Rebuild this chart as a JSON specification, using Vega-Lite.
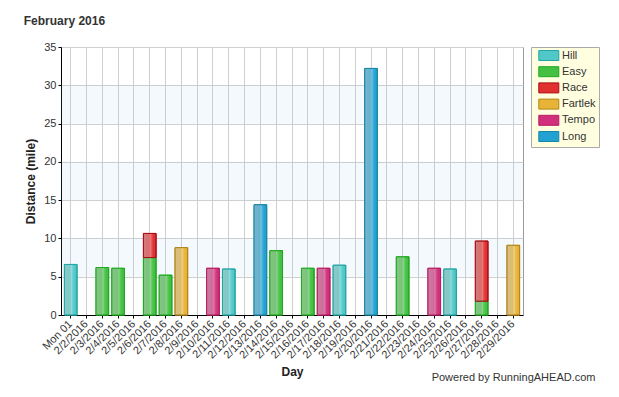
{
  "$schema": "https://vega.github.io/schema/vega-lite/v6.json",
  "padding": {"left": 23, "top": 14, "right": 5, "bottom": 5},
  "background": "white",
  "title": {"text": "Powered by RunningAHEAD.com", "orient": "bottom", "anchor": "end", "frame": "bounds", "offset": -6, "dx": -4, "fontSize": 11, "fontWeight": "normal", "color": "#333"},
  "config": {
    "font": "Liberation Sans",
    "axis": {
      "labelFontSize": 11,
      "labelColor": "#333",
      "tickSize": 3,
      "tickColor": "#000",
      "domainColor": "#000",
      "gridColor": "#cfcfcf",
      "titleFontSize": 12,
      "titleFontWeight": "bold",
      "titleColor": "#222"
    }
  },
  "vconcat": [
    {
      "width": 462,
      "height": 268,
      "view": {"stroke": "#999"},
      "title": {"text": "February 2016", "anchor": "start", "frame": "bounds", "offset": 13, "dx": -1, "fontSize": 12, "fontWeight": "bold", "color": "#333"},
      "layer": [
        {
          "data": {"values": [{"lo": 5, "hi": 10}, {"lo": 15, "hi": 20}, {"lo": 25, "hi": 30}]},
          "mark": {"type": "rect", "fill": "#87c3eb", "opacity": 0.1},
          "encoding": {
            "y": {"field": "lo", "type": "quantitative", "title": "Distance (mile)", "scale": {"domain": [0, 35]},
              "axis": {"values": [0, 5, 10, 15, 20, 25, 30, 35], "grid": true, "labelPadding": 2, "titlePadding": 6}},
            "y2": {"field": "hi"}
          }
        },
        {
          "data": {"values": [
            {"day": "Mon 01", "type": "Hill", "miles": 6.6},
            {"day": "2/3/2016", "type": "Easy", "miles": 6.2},
            {"day": "2/4/2016", "type": "Easy", "miles": 6.1},
            {"day": "2/6/2016", "type": "Easy", "miles": 7.5},
            {"day": "2/6/2016", "type": "Race", "miles": 3.15},
            {"day": "2/7/2016", "type": "Easy", "miles": 5.2},
            {"day": "2/8/2016", "type": "Fartlek", "miles": 8.8},
            {"day": "2/10/2016", "type": "Tempo", "miles": 6.1},
            {"day": "2/11/2016", "type": "Hill", "miles": 6.0},
            {"day": "2/13/2016", "type": "Long", "miles": 14.4},
            {"day": "2/14/2016", "type": "Easy", "miles": 8.4},
            {"day": "2/16/2016", "type": "Easy", "miles": 6.1},
            {"day": "2/17/2016", "type": "Tempo", "miles": 6.1},
            {"day": "2/18/2016", "type": "Hill", "miles": 6.5},
            {"day": "2/20/2016", "type": "Long", "miles": 32.2},
            {"day": "2/22/2016", "type": "Easy", "miles": 7.6},
            {"day": "2/24/2016", "type": "Tempo", "miles": 6.1},
            {"day": "2/25/2016", "type": "Hill", "miles": 6.0},
            {"day": "2/27/2016", "type": "Easy", "miles": 1.8},
            {"day": "2/27/2016", "type": "Race", "miles": 7.85},
            {"day": "2/29/2016", "type": "Fartlek", "miles": 9.1}
          ]},
          "encoding": {
            "x": {
              "field": "day", "type": "nominal", "sort": null, "title": "Day",
              "scale": {
                "domain": ["Mon 01", "2/2/2016", "2/3/2016", "2/4/2016", "2/5/2016", "2/6/2016", "2/7/2016", "2/8/2016", "2/9/2016", "2/10/2016", "2/11/2016", "2/12/2016", "2/13/2016", "2/14/2016", "2/15/2016", "2/16/2016", "2/17/2016", "2/18/2016", "2/19/2016", "2/20/2016", "2/21/2016", "2/22/2016", "2/23/2016", "2/24/2016", "2/25/2016", "2/26/2016", "2/27/2016", "2/28/2016", "2/29/2016"],
                "paddingInner": 0.2, "paddingOuter": 0.215
              },
              "axis": {"labelAngle": -45, "labelAlign": "right", "labelBaseline": "middle", "grid": true, "bandPosition": 0.5, "labelPadding": 4, "titlePadding": 6}
            },
            "y": {
              "field": "miles", "type": "quantitative", "title": "Distance (mile)", "stack": "zero",
              "scale": {"domain": [0, 35]},
              "axis": {"values": [0, 5, 10, 15, 20, 25, 30, 35], "grid": true, "labelPadding": 2, "titlePadding": 6}
            },
            "order": {"field": "type", "type": "nominal", "sort": "ascending"},
            "stroke": {
              "field": "type", "type": "nominal",
              "scale": {"domain": ["Hill", "Easy", "Race", "Fartlek", "Tempo", "Long"], "range": ["#20a6a6", "#1faa1f", "#aa0c16", "#b3861a", "#b81c62", "#1a86a6"]},
              "legend": {"title": null, "orient": "right", "offset": 7, "padding": 3, "fillColor": "#ffffe0", "strokeColor": "#aaa", "labelFontSize": 11, "labelColor": "#333", "symbolType": "M-0.14,-1L3.86,-1L3.86,1L-0.14,1Z", "symbolSize": 100, "symbolStrokeWidth": 1, "rowPadding": 1.2, "labelOffset": 17}
            }
          },
          "layer": [
            {
              "mark": {"type": "bar", "strokeWidth": 1},
              "encoding": {
                "color": {
                  "field": "type", "type": "nominal",
                  "scale": {"domain": ["Hill", "Easy", "Race", "Fartlek", "Tempo", "Long"], "range": ["#50c8c8", "#44c044", "#e03030", "#e8b437", "#d0307c", "#22a2d2"]},
                  "legend": {"title": null, "orient": "right", "offset": 7, "padding": 3, "fillColor": "#ffffe0", "strokeColor": "#aaa", "labelFontSize": 11, "labelColor": "#333", "symbolType": "M-0.14,-1L3.86,-1L3.86,1L-0.14,1Z", "symbolSize": 100, "symbolStrokeWidth": 1, "rowPadding": 1.2, "labelOffset": 17}
                }
              }
            },
            {
              "mark": {"type": "bar", "strokeWidth": 1, "fill": {"gradient": "linear", "x1": 0, "y1": 0, "x2": 1, "y2": 0, "stops": [
                {"offset": 0, "color": "rgba(200,200,200,0.5)"},
                {"offset": 0.45, "color": "rgba(200,200,200,0.4)"},
                {"offset": 0.56, "color": "rgba(255,255,255,0.35)"},
                {"offset": 0.68, "color": "rgba(255,255,255,0.12)"},
                {"offset": 0.82, "color": "rgba(255,255,255,0)"},
                {"offset": 1, "color": "rgba(0,0,0,0.06)"}
              ]}}
            }
          ]
        }
      ]
    }
  ]
}
